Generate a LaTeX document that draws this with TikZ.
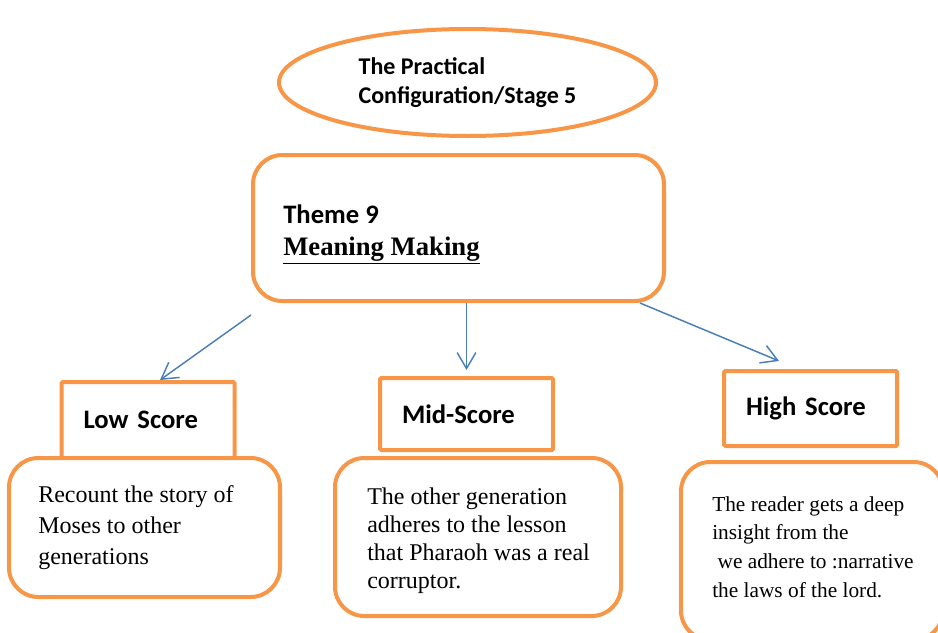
\documentclass[tikz,border=0pt]{standalone}
\usepackage{fontspec}
\setmainfont{Liberation Serif}
\newfontfamily\calibri{Carlito}
\usetikzlibrary{arrows.meta}
\usetikzlibrary{shapes.geometric}
\usetikzlibrary{positioning}
\definecolor{boxorange}{HTML}{F79646}
\definecolor{arrowblue}{HTML}{4A7EBB}

\begin{document}
\begin{tikzpicture}[x=0.75pt,y=-0.75pt,
    frame/.style={draw=boxorange,line width=3pt,fill=white},
    roundbox/.style={frame,rounded corners=22pt},
    scorebox/.style={frame,rounded corners=1pt,minimum width=129.75pt,text width=96.75pt,align=left,
        font=\calibri\bfseries\fontsize{20}{24}\selectfont},
    bodytext/.style={inner sep=0pt,align=left,font=\fontsize{18}{23}\selectfont},
    link/.style={draw=arrowblue,line width=1.1pt,-{Straight Barb[length=12pt,width=14pt]}}]
        \useasboundingbox (0,0) rectangle (938,632);

        \node[frame, ellipse, minimum width=282.75pt, minimum height=80.25pt, align=left,
            font=\calibri\bfseries\fontsize{18}{22}\selectfont] (stage) at (467.5,82.5) {The Practical\\Configuration/Stage 5};
        \node[roundbox, minimum width=308.25pt, minimum height=109.5pt] (theme) at (458.5,228) {};
        \node[bodytext, font=\fontsize{20}{24}\selectfont, right=24pt of theme.west, yshift=-5pt] (themetxt)
            {{\calibri\bfseries Theme 9}\\\textbf{\underline{Meaning Making}}};

        \node[scorebox, minimum height=57pt] (lowhead) at (148,420) {Low Score};
        \node[scorebox, minimum height=54pt] (midhead) at (466.5,414) {Mid-Score};
        \node[scorebox, minimum height=56.25pt] (highhead) at (810.5,408.5) {High Score};

        \node[roundbox, minimum width=203.25pt, minimum height=104.25pt] (lowbox) at (144.5,527.5) {};
        \node[roundbox, minimum width=214.5pt, minimum height=118.5pt] (midbox) at (478,537) {};
        \node[roundbox, minimum width=196.5pt, minimum height=133.5pt] (highbox) at (812,551) {};

        \node[bodytext, right=23.25pt of lowbox.west] (lowtxt)
            {Recount the story of\\Moses to other\\generations};
        \node[bodytext, font=\fontsize{18}{21}\selectfont, right=25.5pt of midbox.west, yshift=-2.5pt] (midtxt)
            {The other generation\\adheres to the lesson\\that Pharaoh was a real\\corruptor.};
        \node[bodytext, font=\fontsize{16}{21.5}\selectfont, right=24.75pt of highbox.west, yshift=3pt] (hightxt)
            {The reader gets a deep\\insight from the\\\hspace*{4pt}we adhere to :narrative\\the laws of the lord.};

        \draw[link] ([yshift=-9pt]theme.south west) -- ([xshift=9pt]lowhead.north);
        \draw[link] (theme.south -| midhead.north) -- ([yshift=4.5pt]midhead.north);
        \draw[link] ([xshift=-19.5pt]theme.south east) -- ([xshift=-23.6pt,yshift=6pt]highhead.north);
\end{tikzpicture}
\end{document}
